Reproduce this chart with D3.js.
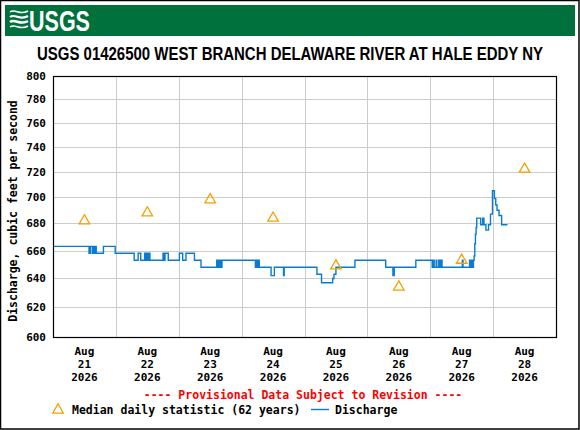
<!doctype html>
<html>
<meta charset="utf-8">
<style>
body { margin: 0; padding: 0; background: #fff; }
svg text { font-family: 'DejaVu Sans Mono', monospace; font-weight: bold; }
</style>
<body>
<svg width="580" height="430"></svg>
<script src="https://cdn.jsdelivr.net/npm/d3@7"></script>
<script>

// chart values
var title = "USGS 01426500 WEST BRANCH DELAWARE RIVER AT HALE EDDY NY";
var yTicks = [600, 620, 640, 660, 680, 700, 720, 740, 760, 780, 800];
var dayDates = ["2026-08-21", "2026-08-22", "2026-08-23", "2026-08-24",
                "2026-08-25", "2026-08-26", "2026-08-27", "2026-08-28"];
var medianValues = [682, 688, 698, 684, 649, 634, 653, 722];

// discharge, 15-minute record, only the times where the value changes
var flowTimes = [
  "2026-08-21 00:00", "2026-08-21 13:45", "2026-08-21 14:15", "2026-08-21 15:00",
  "2026-08-21 15:15", "2026-08-21 15:45", "2026-08-21 16:00", "2026-08-21 16:30",
  "2026-08-21 19:15", "2026-08-21 23:45",
  "2026-08-22 07:00", "2026-08-22 08:30", "2026-08-22 09:30", "2026-08-22 11:00",
  "2026-08-22 11:30", "2026-08-22 12:00", "2026-08-22 12:15", "2026-08-22 12:45",
  "2026-08-22 13:00", "2026-08-22 18:00", "2026-08-22 18:30", "2026-08-22 18:45",
  "2026-08-22 20:00",
  "2026-08-23 00:15", "2026-08-23 01:30", "2026-08-23 02:45", "2026-08-23 06:00",
  "2026-08-23 08:30", "2026-08-23 14:30", "2026-08-23 15:00", "2026-08-23 15:30",
  "2026-08-23 16:00", "2026-08-23 16:30",
  "2026-08-24 05:15", "2026-08-24 05:30", "2026-08-24 06:00", "2026-08-24 06:15",
  "2026-08-24 06:45", "2026-08-24 11:15", "2026-08-24 12:30", "2026-08-24 16:00",
  "2026-08-24 16:15",
  "2026-08-25 04:45", "2026-08-25 06:30", "2026-08-25 10:45", "2026-08-25 11:15",
  "2026-08-25 12:00", "2026-08-25 19:15",
  "2026-08-26 07:00", "2026-08-26 09:45", "2026-08-26 10:15", "2026-08-26 18:30",
  "2026-08-27 00:45", "2026-08-27 01:00", "2026-08-27 01:30", "2026-08-27 02:15",
  "2026-08-27 02:30", "2026-08-27 03:15", "2026-08-27 03:45", "2026-08-27 04:15",
  "2026-08-27 04:30", "2026-08-27 12:15", "2026-08-27 12:30", "2026-08-27 15:00",
  "2026-08-27 15:30", "2026-08-27 15:45", "2026-08-27 16:15", "2026-08-27 16:30",
  "2026-08-27 16:45", "2026-08-27 17:00", "2026-08-27 17:15", "2026-08-27 17:30",
  "2026-08-27 17:45", "2026-08-27 19:15", "2026-08-27 20:00", "2026-08-27 20:30",
  "2026-08-27 21:15", "2026-08-27 22:15", "2026-08-27 23:00", "2026-08-27 23:45",
  "2026-08-28 00:30", "2026-08-28 01:00", "2026-08-28 01:30", "2026-08-28 02:15",
  "2026-08-28 03:15", "2026-08-28 05:30"
];
var flowValues = [
  663, 658, 663, 658, 663, 658, 663, 658, 663, 658,
  653, 658, 653, 658, 653, 658, 653, 658, 653, 658, 653, 658, 653,
  658, 653, 658, 653, 648, 653, 648, 653, 648, 653,
  648, 653, 648, 653, 648, 642, 648, 642, 648,
  643, 637, 640, 643, 648, 653,
  648, 642, 648, 653,
  648, 653, 648, 653, 648, 653, 648, 653, 648, 653, 648, 653,
  648, 653, 648, 653, 656, 665, 672, 677, 684, 679, 684, 679,
  675, 679, 687, 705,
  699, 694, 690, 686, 679, 679
];

var parseTime = d3.timeParse("%Y-%m-%d %H:%M"),
    parseDay = d3.timeParse("%Y-%m-%d");

var svg = d3.select("svg");

// squeeze a text horizontally to a given width (condensed look)
function squeeze(sel, cx, cy, w) {
  var natural = sel.node().getComputedTextLength();
  sel.attr("transform", "translate(" + cx + "," + cy + ") scale(" + (w / natural) + ",1)");
}

// outer frame
svg.append("rect")
    .attr("x", 0.5).attr("y", 0.5)
    .attr("width", 578.5).attr("height", 428.5)
    .attr("fill", "#fff")
    .attr("stroke", "#000")
    .attr("stroke-width", 1.5);

// USGS banner
svg.append("rect")
    .attr("x", 5).attr("y", 5)
    .attr("width", 570).attr("height", 31)
    .attr("fill", "#00703C");

var logo = svg.append("g").attr("fill", "none").attr("stroke", "#fff");
[[12, 1.6], [17, 2.2], [22, 2.6], [27, 1.6]].forEach(function(w) {
  logo.append("path")
      .attr("stroke-width", w[1])
      .attr("d", "M10," + w[0] + " C15," + (w[0] - 4) + " 20," + (w[0] + 4) + " 28," + (w[0] - 1));
});
var logoText = svg.append("text")
    .style("font-family", "'Liberation Sans Narrow', 'Liberation Sans', sans-serif")
    .style("font-size", "29px")
    .attr("fill", "#fff")
    .text("USGS");
squeeze(logoText, 29, 31, 61);

var titleText = svg.append("text")
    .attr("text-anchor", "middle")
    .style("font-family", "'Liberation Sans Narrow', 'Liberation Sans', sans-serif")
    .style("font-size", "18px")
    .text(title);
squeeze(titleText, 290, 60, 506);

// plot area
var plotLeft = 53, plotRight = 556, plotTop = 76, plotBottom = 337;

var x = d3.scaleTime()
    .domain([parseDay("2026-08-21"), parseDay("2026-08-29")])
    .range([plotLeft, plotRight]);

var y = d3.scaleLog()
    .domain([600, 800])
    .range([plotBottom, plotTop]);

var grid = svg.append("g")
    .attr("stroke", "#cccccc")
    .attr("stroke-width", 1);

grid.selectAll(".hgrid")
  .data(yTicks)
  .enter().append("line")
    .attr("x1", plotLeft).attr("x2", plotRight)
    .attr("y1", function(d) { return Math.round(y(d)) + 0.5; })
    .attr("y2", function(d) { return Math.round(y(d)) + 0.5; });

grid.selectAll(".vgrid")
  .data(x.ticks(d3.timeDay.every(1)))
  .enter().append("line")
    .attr("x1", function(d) { return Math.round(x(d)) + 0.5; })
    .attr("x2", function(d) { return Math.round(x(d)) + 0.5; })
    .attr("y1", plotTop).attr("y2", plotBottom);

// y tick labels
svg.append("g").selectAll("text")
  .data(yTicks)
  .enter().append("text")
    .attr("x", 46)
    .attr("y", function(d) { return y(d) + 4; })
    .attr("text-anchor", "end")
    .style("font-size", "11px")
    .text(function(d) { return d; });

svg.append("text")
    .attr("transform", "translate(17,211) rotate(-90)")
    .attr("text-anchor", "middle")
    .style("font-size", "11.5px")
    .text("Discharge, cubic feet per second");

// x tick labels, one per day at noon
var xl = svg.append("g").selectAll("text")
  .data(dayDates)
  .enter().append("text")
    .attr("text-anchor", "middle")
    .style("font-size", "11px")
    .attr("transform", function(d) {
      return "translate(" + x(d3.timeHour.offset(parseDay(d), 12)) + ",0)";
    });
xl.append("tspan").attr("x", 0).attr("y", 355).text(function(d) { return d3.timeFormat("%b")(parseDay(d)); });
xl.append("tspan").attr("x", 0).attr("y", 368).text(function(d) { return d3.timeFormat("%d")(parseDay(d)); });
xl.append("tspan").attr("x", 0).attr("y", 381).text(function(d) { return d3.timeFormat("%Y")(parseDay(d)); });

// discharge line
var flow = flowTimes.map(function(t, i) { return { t: parseTime(t), v: flowValues[i] }; });

var line = d3.line()
    .curve(d3.curveStepAfter)
    .x(function(d) { return x(d.t); })
    .y(function(d) { return y(d.v); });

svg.append("path")
    .datum(flow)
    .attr("fill", "none")
    .attr("stroke", "#0a7ccf")
    .attr("stroke-width", 1.4)
    .attr("d", line);

// median daily statistic triangles
var tri = d3.symbol().type(d3.symbolTriangle).size(48);

svg.append("g").selectAll("path")
  .data(dayDates)
  .enter().append("path")
    .attr("d", tri)
    .attr("fill", "none")
    .attr("stroke", "#f5a000")
    .attr("stroke-width", 1.3)
    .attr("transform", function(d, i) {
      return "translate(" + x(d3.timeHour.offset(parseDay(d), 12)) + "," + y(medianValues[i]) + ")";
    });

// plot frame
svg.append("rect")
    .attr("x", plotLeft + 0.5).attr("y", plotTop + 0.5)
    .attr("width", plotRight - plotLeft).attr("height", plotBottom - plotTop)
    .attr("fill", "none")
    .attr("stroke", "#000")
    .attr("stroke-width", 1.2);

// footer notes and legend
svg.append("text")
    .attr("x", 303).attr("y", 399)
    .attr("text-anchor", "middle")
    .attr("fill", "#ff0000")
    .style("font-size", "11.5px")
    .text("---- Provisional Data Subject to Revision ----");

svg.append("path")
    .attr("d", tri)
    .attr("fill", "none")
    .attr("stroke", "#f5a000")
    .attr("stroke-width", 1.3)
    .attr("transform", "translate(58,410)");

svg.append("text")
    .attr("x", 72).attr("y", 414)
    .style("font-size", "11.5px")
    .text("Median daily statistic (62 years)");

svg.append("line")
    .attr("x1", 311).attr("x2", 329)
    .attr("y1", 409.5).attr("y2", 409.5)
    .attr("stroke", "#0a7ccf")
    .attr("stroke-width", 1.4);

svg.append("text")
    .attr("x", 335).attr("y", 414)
    .style("font-size", "11.5px")
    .text("Discharge");

</script>
</body>
</html>
